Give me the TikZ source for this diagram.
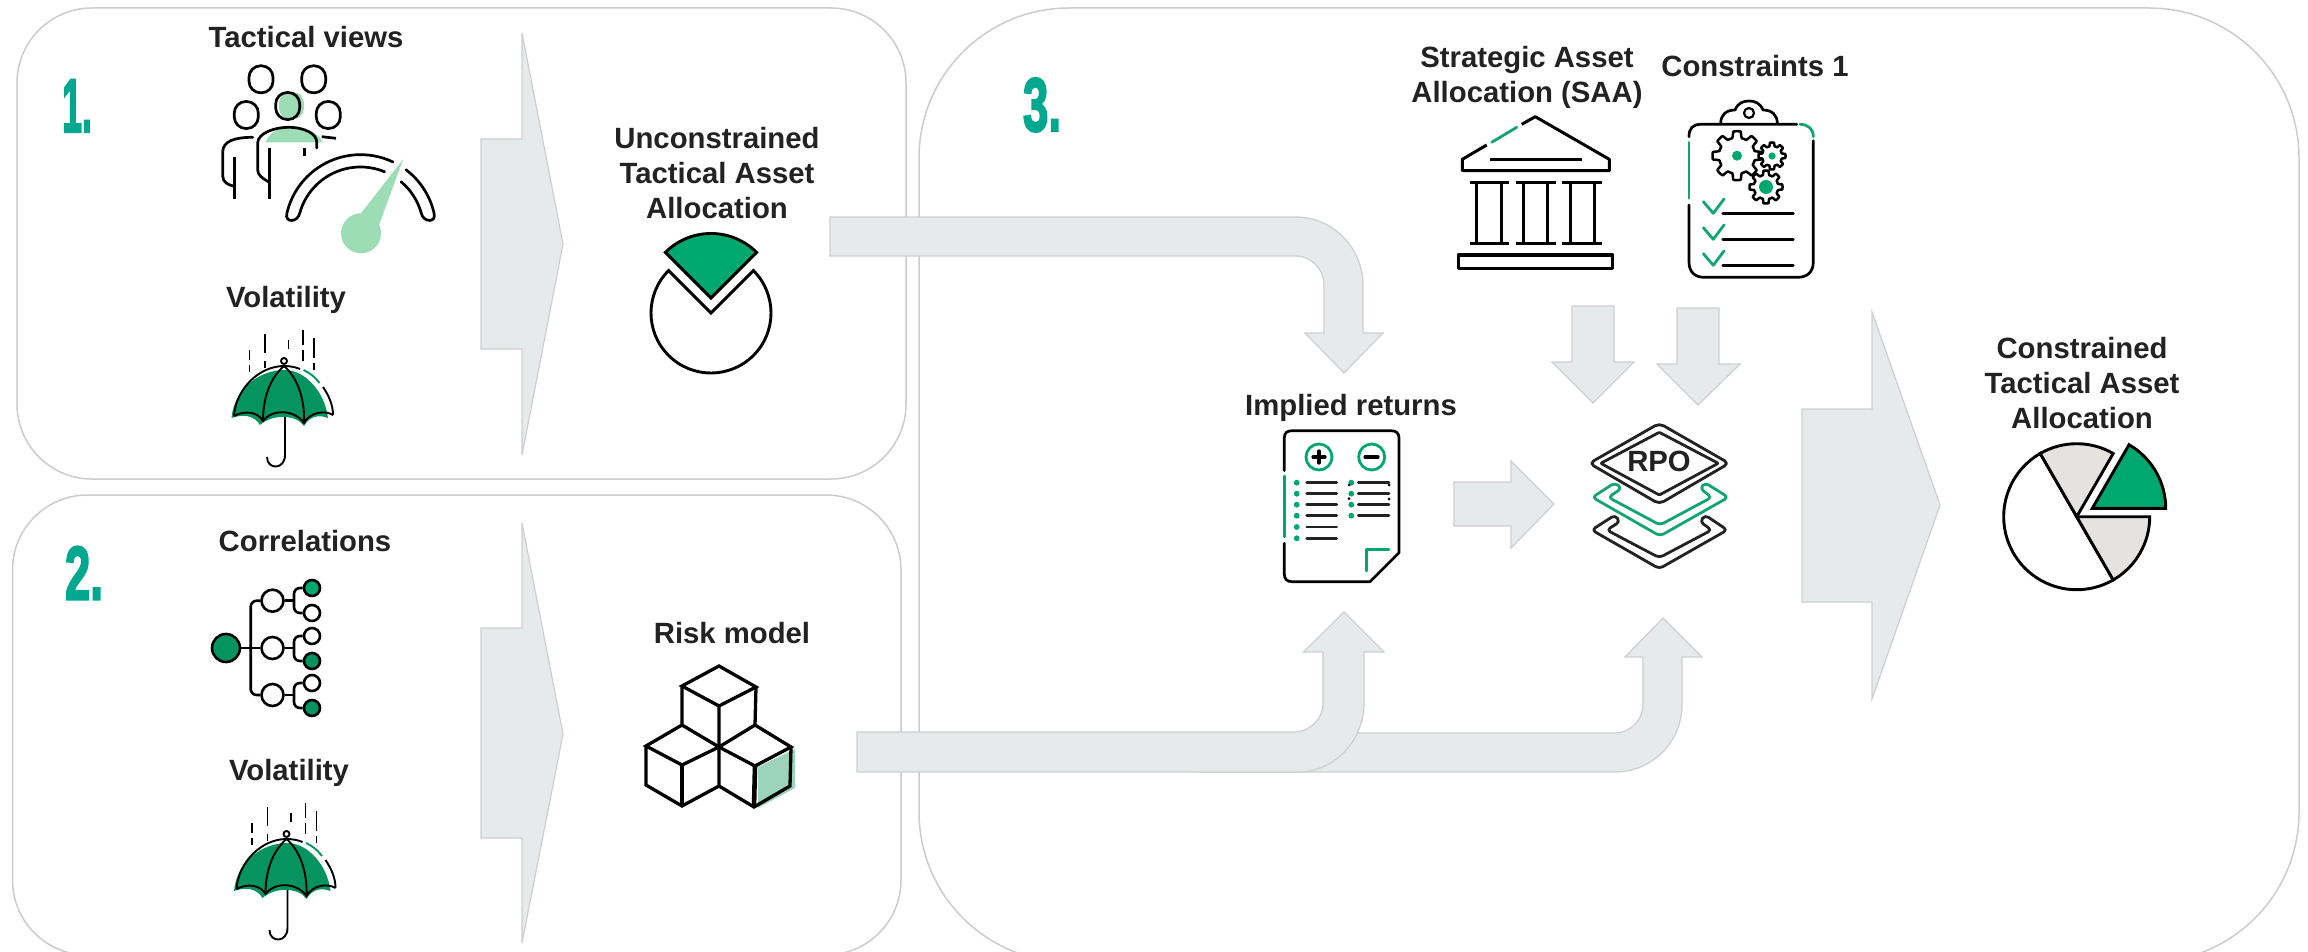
\documentclass[tikz,border=0pt]{standalone}
\usepackage{fontspec}
\usepackage{graphicx}
\setmainfont{Liberation Sans}
\newfontfamily\numfont[FakeBold=3]{Liberation Sans Bold}
\definecolor{panelline}{HTML}{CCCCCC}
\definecolor{arrowfill}{HTML}{E7EAEB}
\definecolor{arrowline}{HTML}{CDCFD0}
\definecolor{teal3}{HTML}{00A88F}
\definecolor{ugreen}{HTML}{05945F}
\definecolor{pgreen}{HTML}{00A870}
\definecolor{lgreen}{HTML}{9CDDB5}
\definecolor{cubegreen}{HTML}{9BD3BB}
\definecolor{igreen}{HTML}{12A56F}
\definecolor{pgrey}{HTML}{E4E3E0}
\definecolor{ink}{HTML}{222222}
\tikzset{
  panel/.style={draw=panelline,line width=1.5pt,fill=white},
  grayarrow/.style={draw=arrowline,line width=1.2pt,fill=arrowfill,line join=miter},
  lbl/.style={font=\fontsize{29.3}{35}\selectfont\bfseries,text=ink,inner sep=0pt,align=center},
  num/.style={font=\fontsize{76}{76}\numfont,text=teal3,inner sep=0pt,anchor=base},
  ic/.style={draw=black,line width=2.7pt,line cap=round,line join=round},
  icthin/.style={draw=black,line width=1.9pt},
  icg/.style={draw=igreen,line width=2.8pt,line cap=round,line join=round},
  treenode/.style={circle,draw=black,line width=2.6pt,inner sep=0pt,fill=white},
}
\newcommand{\umbrellaicon}{%
  \fill[ugreen] (231.5,418) .. controls (234,390) and (258,370) .. (285,370) .. controls (305,370) and (325,392) .. (328,418)
     .. controls (318,414) and (309,417) .. (304,426) .. controls (296,414) and (272,414) .. (260,425) .. controls (254,415) and (243,414) .. (231.5,418) -- cycle;
  \draw[icthin] (234,416) .. controls (245,410) and (258,412) .. (263,421) .. controls (273,408) and (295,410) .. (304,423) .. controls (310,412) and (325,410) .. (333,415);
  \draw[icthin] (234,416) .. controls (236,388) and (260,366) .. (284,366) .. controls (290,366) and (295,367) .. (300,369);
  \draw[draw=ugreen,line width=1.9pt] (303.5,370) .. controls (310,373) and (315,377) .. (319.5,383);
  \draw[icthin] (323,387) .. controls (329,396) and (333,405) .. (333,415);
  \draw[icthin] (284,366) .. controls (270,378) and (263,398) .. (263,421);
  \draw[icthin] (284,366) .. controls (298,378) and (305,400) .. (304,423);
  \draw[icthin] (285,417) -- (285,455) .. controls (285,470) and (267,470) .. (267,457);
  \draw[icthin,fill=white] (284,361) circle (3);
  \draw[icthin] (249.5,350) -- (249.5,360) (249.5,365) -- (249.5,372)
     (265,334) -- (265,353) (265,361) -- (265,368)
     (288.5,340) -- (288.5,349)
     (303,330) -- (303,345) (303,350) -- (303,361)
     (314,338) -- (314,358) (314,363) -- (314,370);
}
\newcommand{\gearicon}[4]{% cx cy r dotr
  \draw[draw=black,line width=2.5pt,fill=white,line join=round] plot[domain=0:360,samples=121,variable=\t]
    ({#1+#3*(.87+.13*max(-1,min(1,3*cos(8*\t))))*cos(\t)},{#2+#3*(.87+.13*max(-1,min(1,3*cos(8*\t))))*sin(\t)}) -- cycle;
  \fill[pgreen] (#1,#2) circle (#4);
}
\begin{document}
\begin{tikzpicture}[x=1pt,y=-1pt]
\clip (0,0) rectangle (2308,952);
\fill[white] (0,0) rectangle (2308,952);
% panels
\draw[panel,rounded corners=75pt] (17,8) rectangle (906,479);
\draw[panel,rounded corners=75pt] (12.5,495) rectangle (901,955);
\draw[panel,rounded corners=150pt] (919,8) rectangle (2299,962);
% chevrons
\draw[grayarrow] (481,139) -- (522,139) -- (522,33) -- (563,244) -- (522,455) -- (522,349) -- (481,349) -- cycle;
\draw[grayarrow] (481,628) -- (522,628) -- (522,523) -- (563,734) -- (522,943) -- (522,838) -- (481,838) -- cycle;
\draw[grayarrow] (1802,409) -- (1872,409) -- (1872,312) -- (1940,505) -- (1872,699) -- (1872,602) -- (1802,602) -- cycle;
\draw[grayarrow] (1454,482) -- (1511,482) -- (1511,461) -- (1554,504) -- (1511,548) -- (1511,526) -- (1454,526) -- cycle;
\draw[grayarrow] (1572,306) -- (1614,306) -- (1614,362) -- (1634,362) -- (1593,403) -- (1552,362) -- (1572,362) -- cycle;
\draw[grayarrow] (1677,308) -- (1719,308) -- (1719,364) -- (1740,364) -- (1698,405) -- (1657,364) -- (1677,364) -- cycle;
% curved arrows
\draw[grayarrow] (830,217) -- (1296,217) .. controls (1333,217) and (1363,248) .. (1363,285) -- (1363,333) -- (1383,333) -- (1344,373) -- (1305,333) -- (1324,333) -- (1324,285) .. controls (1324,269) and (1311,256) .. (1296,256) -- (830,256) -- cycle;
\draw[grayarrow] (1200,733) -- (1615,733) .. controls (1630,733) and (1643,720) .. (1643,705) -- (1643,657) -- (1625,657) -- (1663,618) -- (1702,657) -- (1682,657) -- (1682,705) .. controls (1682,742) and (1652,772) .. (1615,772) -- (1200,772) -- cycle;
\draw[grayarrow] (857,732) -- (1294,732) .. controls (1310,732) and (1323,719) .. (1323,703) -- (1323,652) -- (1303.5,652) -- (1344,612) -- (1384,652) -- (1364,652) -- (1364,703) .. controls (1364,741) and (1334,772) .. (1298,772) -- (857,772) -- cycle;
% numbers
\node[num] (n1) at (77,132) {\scalebox{.47}[1]{1.}};
\node[num] (n2) at (84,599.5) {\scalebox{.6}[1]{2.}};
\node[num] (n3) at (1042,131) {\scalebox{.6}[1]{3.}};
% labels
\node[lbl,anchor=base] (tv) at (306,48) {Tactical views};
\node[lbl,anchor=base] (v1) at (286,307) {Volatility};
\node[lbl,anchor=base] (cr) at (305,551) {Correlations};
\node[lbl,anchor=base] (v2) at (289,780) {Volatility};
\node[lbl,anchor=base] (rm) at (732,643) {Risk model};
\node[lbl,anchor=base] (ir) at (1351,415) {Implied returns};
\node[lbl,anchor=base] (cn) at (1755,77) {Constraints 1};
\node[lbl] (ut) at (717,173.5) {Unconstrained\\Tactical Asset\\Allocation};
\node[lbl] (sa) at (1527,77) {Strategic Asset\\Allocation (SAA)};
\node[lbl] (ct) at (2082,383) {Constrained\\Tactical Asset\\Allocation};
% people
\begin{scope}
\fill[lgreen,rounded corners=11pt] (279,92) rectangle (304,119);
\fill[lgreen] (265.7,142.5) .. controls (268,134) and (278,127.5) .. (289,127.5) .. controls (305,127.5) and (319,132) .. (322.7,142.5) -- cycle;
\foreach \cx/\cy in {261/79.3,313.7/79.3,246.3/115,328.3/115,287.7/106}
  \draw[ic,rounded corners=11.5pt] (\cx-12,\cy-13.5) rectangle (\cx+12,\cy+13.5);
\draw[ic] (252.7,137.3) .. controls (235,137.3) and (222.7,141) .. (222.7,152) -- (222.7,176) .. controls (222.7,182) and (228,185) .. (233.3,186);
\draw[ic,line cap=butt] (234.3,156.7) -- (234.3,199);
\draw[ic] (268.3,181.7) .. controls (262,178) and (257.7,175) .. (257.7,170) -- (257.7,143) .. controls (257.7,133) and (275,127.3) .. (288.3,127.3) .. controls (305,127.3) and (316.7,134) .. (316.7,142) -- (316.7,148);
\draw[ic,line cap=butt] (269.3,147.7) -- (269.3,199);
\draw[ic,line cap=butt] (304.3,148) -- (304.3,156);
\draw[ic,line cap=butt] (321.7,136.7) -- (336,138.3);
% gauge
\coordinate (gc) at (360.5,230);
\draw[ic] (393,162) arc[start angle=-64.5,end angle=-167,radius=75.5] .. controls (284,223) and (298,223) .. (299.9,212.6) arc[start angle=-164,end angle=-67.5,radius=63];
\draw[ic] (405.9,169.7) arc[start angle=-53,end angle=-13,radius=75.5] .. controls (437,223) and (423,223) .. (421.1,212.6) arc[start angle=-16,end angle=-50,radius=63];
\fill[lgreen] (403.3,159) -- (379,225) -- (361,213.3) -- cycle;
\fill[lgreen] (361,233.3) circle (20);
\end{scope}
% umbrellas
\umbrellaicon
\begin{scope}[shift={(2.5,473)}]
\umbrellaicon
\end{scope}
% pie 1
\draw[draw=black,line width=2.9pt,line join=miter,fill=white] (711,313) -- +(-45:60) arc[start angle=-45,end angle=225,radius=60] -- cycle;
\draw[draw=black,line width=2.9pt,line join=miter,fill=pgreen] (711,298) -- +(-135:64.5) arc[start angle=-135,end angle=-45,radius=64.5] -- cycle;
% correlation tree
\coordinate (tr) at (250.7,648);
\node[treenode,fill=ugreen,minimum size=28pt] (rt) at (226,648) {};
\node[treenode,minimum size=22pt] (m1) at (272.5,600.7) {};
\node[treenode,minimum size=22pt] (m2) at (272.5,648) {};
\node[treenode,minimum size=22pt] (m3) at (272.5,695) {};
\node[treenode,fill=pgreen,minimum size=16pt] (l1) at (312,588) {};
\node[treenode,minimum size=16pt] (l2) at (312,613) {};
\node[treenode,minimum size=16pt] (l3) at (312,636) {};
\node[treenode,fill=ugreen,minimum size=16pt] (l4) at (312,661) {};
\node[treenode,minimum size=16pt] (l5) at (312,683) {};
\node[treenode,fill=ugreen,minimum size=16pt] (l6) at (312,708) {};
\coordinate (j1) at (294,600.7);
\coordinate (j2) at (294,648);
\coordinate (j3) at (294,695);
\tikzset{treeline/.style={draw=black,line width=2.6pt}}
\draw[treeline] (rt) -- (m2);
\draw[treeline,rounded corners=6pt] (m1.west) -| (tr) |- (m3.west);
\draw[treeline] (m1) -- (j1) (m2) -- (j2) (m3) -- (j3);
\draw[treeline,rounded corners=6pt] (l1.west) -| (j1) |- (l2.west);
\draw[treeline,rounded corners=6pt] (l3.west) -| (j2) |- (l4.west);
\draw[treeline,rounded corners=6pt] (l5.west) -| (j3) |- (l6.west);
% cubes
\fill[cubegreen] (758,767) -- (795,749) -- (795,788) -- (758,808) -- cycle;
\begin{scope}[ic,line width=3.3pt,line join=miter,line cap=butt]
\draw (682,686) -- (719,666) -- (756,687) -- (719,706) -- cycle;
\draw (682,686) -- (682,725) (756,687) -- (755,725) (719,706) -- (719,747);
\draw (682,725) -- (646,746) -- (682,765) -- (719,747) -- cycle;
\draw (646,746) -- (646,785) -- (682,806) -- (719,786) -- (719,747);
\draw[line width=4.6pt] (682,765) -- (682,806);
\draw (719,747) -- (755,725) -- (791,747) -- (755,766) -- cycle;
\draw (791,747) -- (790,786) -- (754,807) -- (719,786);
\draw[line width=4.6pt] (755,766) -- (754,807);
\end{scope}
% bank
\begin{scope}[ic,line width=3pt,line cap=butt]
\draw (1521.7,124.3) -- (1535.3,116.7) -- (1609.3,159.3) -- (1609.3,170.7) -- (1462.3,170.7) -- (1462.3,159.3) -- (1486.7,145);
\draw (1490,159.3) -- (1581.7,159.3);
\draw (1470,182.3) -- (1509,182.3) (1470,244) -- (1509,244) (1476.7,182.3) -- (1476.7,244) (1501,182.3) -- (1501,244);
\draw (1516,182.3) -- (1555.7,182.3) (1516,244) -- (1555.7,244) (1523.3,182.3) -- (1523.3,244) (1547.7,182.3) -- (1547.7,244);
\draw (1562.3,182.3) -- (1601.7,182.3) (1562.3,244) -- (1601.7,244) (1570,182.3) -- (1570,244) (1594,182.3) -- (1594,244);
\draw (1458.3,255) rectangle (1612.7,268.3);
\end{scope}
\draw[icg] (1491.7,142.3) -- (1516.7,127.3);
% clipboard
\draw[ic] (1689,136.7) .. controls (1689,128) and (1693,124.3) .. (1701,124.3) -- (1796.7,124.3);
\draw[icg] (1800,124.3) .. controls (1808,124.3) and (1813.3,129) .. (1813.3,136.7);
\draw[ic] (1813.3,140.7) -- (1813.3,262) .. controls (1813.3,272) and (1807,277.3) .. (1798,277.3) -- (1704,277.3) .. controls (1695,277.3) and (1689,272) .. (1689,262) -- (1689,205);
\draw[icg] (1689,142.3) -- (1689,198.3);
\draw[ic] (1720.7,123.3) .. controls (1720.7,115) and (1726,110) .. (1735,110) .. controls (1738,103) and (1743,101) .. (1749,101) .. controls (1755,101) and (1760,103) .. (1763,110) .. controls (1772,110) and (1777.3,115) .. (1777.3,123.3);
\draw[ic,line width=2.2pt] (1749,113) circle (5);
\gearicon{1737}{155.7}{24.5}{5}
\gearicon{1772}{156}{13.5}{3.6}
\gearicon{1766}{187}{16.5}{7}
\foreach \dy in {0,26,52}{
  \draw[icg] (1703.3,201.7+\dy) -- (1713.3,213.3+\dy) -- (1724,199+\dy);
  \draw[ic,line width=2.7pt] (1722.7,213.3+\dy) -- (1793.3,213.3+\dy);
}
% document
\draw[ic] (1284.3,470.7) -- (1284.3,438) .. controls (1284.3,433) and (1287,430.7) .. (1292,430.7) -- (1391,430.7) .. controls (1396,430.7) and (1399,433) .. (1399,438) -- (1399,552.7) -- (1370,581.7) -- (1292,581.7) .. controls (1287,581.7) and (1284.3,579) .. (1284.3,574) -- (1284.3,543.3);
\draw[icg,draw=pgreen] (1284.3,476) -- (1284.3,536.7);
\draw[pgreen,line width=2.8pt] (1319,457) circle (13) (1371.7,457) circle (13);
\draw[ic,line width=3.2pt] (1313,457) -- (1325,457) (1319,451) -- (1319,463) (1365,457) -- (1378,457);
\foreach \yy in {482.7,493.7,504.7,515.7,527,538.3}{
  \fill[pgreen] (1296.7,\yy) circle (2.9);
  \draw[ic,line width=2.7pt,draw=ink] (1306.7,\yy) -- (1336.7,\yy);
}
\foreach \yy in {482.7,493.7,504.7,515.7}{
  \fill[pgreen] (1351.3,\yy) circle (2.9);
  \draw[ic,line width=2.7pt,draw=ink] (1358.3,\yy) -- (1389,\yy);
}
\fill[black] (1349,485) circle (1.5) (1389,485) circle (1.5) (1349,498.7) circle (1.5) (1389,499) circle (1.5);
\draw[icg,draw=pgreen] (1366.7,571) -- (1366.7,549.3) -- (1389,549.3);
% RPO stack
\begin{scope}[line width=2.8pt,line join=round,line cap=round]
\draw[draw=ink,rounded corners=5pt] (1659.3,423.3) -- (1729,463.3) -- (1659.3,504) -- (1589.3,463.3) -- cycle;
\draw[draw=ink,rounded corners=1pt] (1659.3,432.3) -- (1718.3,463.3) -- (1659.3,495) -- (1600.7,463.3) -- cycle;
\draw[draw=igreen,rounded corners=4pt] (1615,482.7) -- (1592.3,497.3) -- (1660,536) -- (1728.3,497.3) -- (1705,482.7) -- (1700,488.3) -- (1711.7,497.3) -- (1660,525) -- (1608.3,497.3) -- (1621.7,488.3) -- cycle;
\draw[draw=ink,rounded corners=4pt] (1615,515) -- (1591.7,530) -- (1659.3,568.7) -- (1727.3,530) -- (1705,515) -- (1700,521.7) -- (1711.7,530) -- (1659.3,557.7) -- (1606.7,530) -- (1620,521.7) -- cycle;
\end{scope}
\node[lbl,anchor=base] (rpo) at (1659,471) {RPO};
% pie 2
\begin{scope}[draw=black,line width=2.9pt,line join=miter]
\draw[fill=white] (2076.7,516.7) -- +(60:73) arc[start angle=60,end angle=240,radius=73] -- cycle;
\draw[fill=pgrey] (2076.7,516.7) -- +(-120:73) arc[start angle=-120,end angle=-60,radius=73] -- cycle;
\draw[fill=pgrey] (2076.7,516.7) -- +(0:73) arc[start angle=0,end angle=60,radius=73] -- cycle;
\draw[fill=pgreen] (2092.3,508.3) -- +(-60:73.4) arc[start angle=-60,end angle=0,radius=73.4] -- cycle;
\end{scope}
\end{tikzpicture}
\end{document}
